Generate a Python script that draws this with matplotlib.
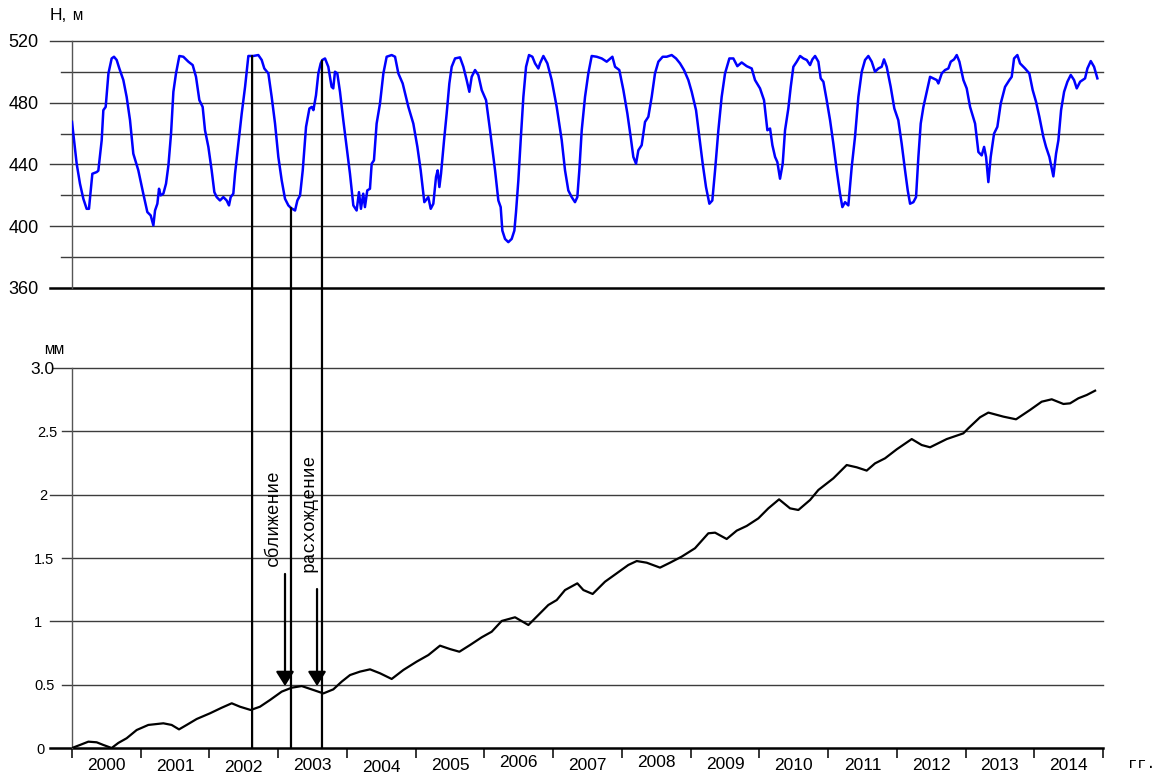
import matplotlib.pyplot as plt
import numpy as np
from matplotlib.patches import ConnectionPatch

plt.rcParams['font.family'] = ['Liberation Sans', 'DejaVu Sans']

# reservoir level H, m  (time in years after 2000.0)
level_t = [0.000, 0.068, 0.116, 0.165, 0.213, 0.247, 0.272, 0.296, 0.359, 0.383,
           0.432, 0.456, 0.490, 0.530, 0.577, 0.611, 0.650, 0.689, 0.747, 0.795,
           0.844, 0.892, 0.965, 1.037, 1.096, 1.145, 1.184, 1.208, 1.242, 1.266,
           1.290, 1.329, 1.368, 1.403, 1.441, 1.475, 1.513, 1.562, 1.620, 1.693,
           1.756, 1.804, 1.853, 1.901, 1.935, 1.984, 2.032, 2.071, 2.105, 2.153,
           2.202, 2.250, 2.284, 2.309, 2.347, 2.372, 2.420, 2.469, 2.518, 2.566,
           2.639, 2.711, 2.760, 2.798, 2.857, 2.905, 2.954, 3.002, 3.051, 3.099,
           3.148, 3.187, 3.245, 3.279, 3.318, 3.357, 3.405, 3.454, 3.488, 3.512,
           3.550, 3.584, 3.618, 3.642, 3.681, 3.729, 3.777, 3.801, 3.826, 3.860,
           3.899, 3.947, 3.996, 4.044, 4.093, 4.141, 4.175, 4.204, 4.237, 4.262,
           4.296, 4.335, 4.360, 4.393, 4.432, 4.481, 4.530, 4.578, 4.651, 4.700,
           4.748, 4.811, 4.894, 4.966, 5.025, 5.073, 5.126, 5.184, 5.219, 5.257,
           5.296, 5.320, 5.345, 5.369, 5.413, 5.451, 5.490, 5.524, 5.573, 5.645,
           5.694, 5.742, 5.781, 5.815, 5.864, 5.912, 5.961, 6.024, 6.082, 6.155,
           6.203, 6.237, 6.261, 6.300, 6.348, 6.397, 6.436, 6.460, 6.494, 6.528,
           6.567, 6.606, 6.649, 6.698, 6.737, 6.785, 6.809, 6.858, 6.916, 6.979,
           7.052, 7.125, 7.173, 7.221, 7.270, 7.318, 7.352, 7.381, 7.416, 7.464,
           7.512, 7.561, 7.634, 7.707, 7.779, 7.862, 7.901, 7.963, 8.022, 8.080,
           8.128, 8.167, 8.206, 8.240, 8.288, 8.337, 8.385, 8.434, 8.482, 8.531,
           8.594, 8.652, 8.725, 8.788, 8.846, 8.904, 8.967, 9.016, 9.079, 9.127,
           9.176, 9.224, 9.273, 9.316, 9.356, 9.404, 9.452, 9.501, 9.564, 9.622,
           9.680, 9.743, 9.816, 9.889, 9.937, 10.010, 10.068, 10.117, 10.156, 10.190,
           10.229, 10.262, 10.301, 10.340, 10.374, 10.422, 10.457, 10.495, 10.544, 10.593,
           10.641, 10.690, 10.738, 10.772, 10.811, 10.859, 10.893, 10.932, 10.980, 11.029,
           11.077, 11.126, 11.174, 11.208, 11.247, 11.295, 11.344, 11.392, 11.441, 11.490,
           11.538, 11.586, 11.635, 11.683, 11.732, 11.780, 11.814, 11.853, 11.911, 11.964,
           12.022, 12.071, 12.120, 12.159, 12.193, 12.241, 12.280, 12.314, 12.348, 12.387,
           12.435, 12.484, 12.532, 12.581, 12.605, 12.654, 12.702, 12.750, 12.785, 12.833,
           12.872, 12.911, 12.969, 13.017, 13.066, 13.139, 13.187, 13.235, 13.270, 13.299,
           13.332, 13.366, 13.415, 13.463, 13.512, 13.575, 13.638, 13.672, 13.706, 13.754,
           13.793, 13.866, 13.928, 13.977, 14.026, 14.074, 14.132, 14.171, 14.220, 14.278,
           14.317, 14.351, 14.390, 14.434, 14.482, 14.531, 14.579, 14.618, 14.667, 14.739,
           14.773, 14.822, 14.870, 14.918]
level_h = [467.6, 440.5, 427.6, 417.8, 411.3, 411.3, 423.2, 434.0, 435.1, 436.0,
           455.7, 475.2, 477.3, 499.0, 508.7, 509.8, 507.7, 502.2, 494.7, 483.8,
           468.7, 447.0, 436.2, 421.1, 409.2, 407.0, 400.5, 410.2, 414.6, 424.3,
           420.0, 421.1, 427.6, 439.5, 460.0, 487.1, 499.0, 510.3, 509.8, 506.6,
           504.4, 496.8, 481.7, 477.3, 462.2, 451.4, 436.2, 422.1, 418.9, 416.7,
           418.9, 416.7, 413.5, 418.9, 421.1, 434.1, 453.5, 473.0, 490.3, 510.3,
           510.3, 510.9, 507.7, 502.2, 499.0, 483.8, 466.5, 444.9, 429.7, 417.8,
           413.5, 411.8, 410.2, 416.7, 420.0, 436.2, 464.4, 476.3, 477.3, 475.2,
           484.9, 499.0, 505.5, 507.7, 508.7, 503.3, 490.3, 489.3, 500.1, 499.0,
           487.1, 468.7, 451.4, 434.1, 413.5, 410.2, 422.1, 411.3, 421.1, 412.4,
           423.2, 424.3, 440.5, 442.7, 466.5, 479.5, 499.0, 509.8, 510.9, 509.8,
           499.0, 492.5, 477.3, 466.5, 451.4, 436.2, 415.6, 418.9, 411.3, 414.6,
           431.9, 436.2, 425.4, 434.1, 455.7, 473.0, 492.5, 503.3, 508.7, 509.4,
           503.3, 494.7, 487.1, 496.8, 501.2, 497.9, 488.2, 481.7, 462.2, 436.2,
           416.7, 412.4, 397.2, 391.8, 389.7, 391.8, 397.2, 409.2, 429.7, 455.7,
           483.8, 503.3, 510.9, 509.8, 505.5, 502.2, 505.5, 510.3, 505.5, 494.7,
           477.3, 455.7, 436.2, 423.2, 418.9, 415.6, 418.9, 436.2, 462.2, 483.8,
           499.0, 510.3, 509.8, 508.7, 506.6, 509.8, 503.3, 501.2, 488.2, 473.0,
           457.9, 444.9, 440.5, 449.2, 452.5, 467.6, 470.9, 483.8, 499.0, 506.6,
           509.8, 509.8, 510.9, 508.7, 505.5, 501.2, 494.7, 487.1, 475.2, 457.9,
           440.5, 425.4, 414.6, 416.7, 436.2, 462.2, 483.8, 499.0, 508.7, 508.7,
           503.7, 506.1, 503.7, 502.2, 494.7, 489.3, 481.7, 462.2, 463.3, 452.5,
           444.9, 441.6, 430.8, 440.5, 462.2, 476.3, 490.3, 503.3, 506.6, 510.3,
           508.7, 507.7, 504.4, 508.1, 510.3, 506.6, 495.8, 493.6, 481.7, 468.7,
           453.5, 436.2, 421.1, 412.4, 415.6, 413.5, 438.4, 457.9, 483.8, 500.1,
           507.7, 510.3, 506.6, 500.1, 502.2, 503.3, 508.1, 503.3, 490.3, 476.3,
           468.7, 453.5, 436.2, 423.2, 414.6, 415.6, 418.9, 444.9, 466.5, 477.3,
           487.1, 496.8, 495.8, 494.7, 492.5, 499.0, 501.2, 502.2, 506.6, 508.1,
           510.9, 506.6, 494.7, 489.3, 477.3, 466.5, 448.1, 445.9, 451.4, 444.9,
           428.6, 444.9, 460.0, 464.4, 479.5, 490.3, 494.7, 496.8, 508.7, 510.9,
           505.5, 502.2, 499.0, 488.2, 480.6, 470.9, 457.9, 451.4, 444.9, 432.3,
           447.0, 455.7, 475.2, 487.1, 493.6, 498.0, 494.7, 489.3, 493.6, 495.8,
           502.2, 507.0, 503.3, 495.8]

# displacement, mm
disp_t = [0.000, 0.116, 0.238, 0.359, 0.456, 0.577, 0.674, 0.795, 0.941, 1.110,
          1.329, 1.450, 1.557, 1.668, 1.814, 2.008, 2.178, 2.324, 2.444, 2.600,
          2.735, 2.881, 3.051, 3.196, 3.342, 3.512, 3.657, 3.802, 3.924, 4.045,
          4.190, 4.336, 4.481, 4.651, 4.821, 5.015, 5.185, 5.354, 5.500, 5.636,
          5.791, 5.961, 6.106, 6.252, 6.446, 6.640, 6.785, 6.930, 7.052, 7.173,
          7.352, 7.440, 7.575, 7.755, 7.925, 8.094, 8.216, 8.361, 8.555, 8.701,
          8.871, 9.064, 9.258, 9.356, 9.525, 9.671, 9.816, 9.986, 10.131, 10.287,
          10.447, 10.568, 10.738, 10.859, 11.077, 11.271, 11.417, 11.562, 11.683, 11.829,
          11.999, 12.217, 12.362, 12.484, 12.726, 12.968, 13.041, 13.211, 13.332, 13.551,
          13.735, 13.939, 14.108, 14.254, 14.424, 14.521, 14.642, 14.764, 14.885]
disp_v = [0.000, 0.024, 0.050, 0.045, 0.024, 0.000, 0.040, 0.077, 0.142, 0.182,
          0.195, 0.182, 0.147, 0.182, 0.229, 0.274, 0.318, 0.353, 0.326, 0.300,
          0.326, 0.379, 0.445, 0.476, 0.489, 0.458, 0.431, 0.463, 0.524, 0.576,
          0.603, 0.621, 0.590, 0.545, 0.616, 0.682, 0.734, 0.808, 0.781, 0.760,
          0.813, 0.874, 0.918, 1.003, 1.032, 0.971, 1.050, 1.129, 1.168, 1.247,
          1.300, 1.247, 1.216, 1.313, 1.379, 1.445, 1.476, 1.463, 1.424, 1.463,
          1.511, 1.577, 1.695, 1.700, 1.650, 1.716, 1.753, 1.813, 1.892, 1.963,
          1.892, 1.879, 1.958, 2.037, 2.129, 2.234, 2.216, 2.190, 2.247, 2.287,
          2.358, 2.439, 2.392, 2.374, 2.439, 2.484, 2.524, 2.611, 2.648, 2.616,
          2.595, 2.669, 2.734, 2.753, 2.716, 2.721, 2.761, 2.787, 2.821]

years = list(range(2000, 2015))
h_major = [520, 480, 440, 400, 360]
h_minor = [500, 460, 420, 380]
mm_ticks = [3.0, 2.5, 2, 1.5, 1, 0.5, 0]
mm_labels = ['3.0', '2.5', '2', '1.5', '1', '0.5', '0']
marks = [2002.62, 2003.186, 2003.637]        # vertical marker lines
arrow_x = [2003.099, 2003.565]
notes = ['сближение', 'расхождение']

lt = 2000 + np.array(level_t)
dt = 2000 + np.array(disp_t)

W, H = 1161, 775
def box(l, t, r, b):
    return [l / W, 1 - b / H, (r - l) / W, (b - t) / H]

fig = plt.figure(figsize=(W / 100, H / 100), dpi=100)
ax1 = fig.add_axes(box(72, 41, 1103, 288))
ax2 = fig.add_axes(box(72, 368, 1103, 748))
axw = 1031.0

# ---- top panel: water level
for v in sorted(h_major + h_minor):
    start = 50 if v in h_major else 61
    if v == 360:
        ax1.axhline(v, xmin=(start - 72) / axw, xmax=1, color='black', lw=1.8, clip_on=False, zorder=1)
    else:
        ax1.axhline(v, xmin=(start - 72) / axw, xmax=1, color='#3c3c3c', lw=1.0, clip_on=False, zorder=1)
ax1.plot(lt, level_h, color='#0000ff', lw=1.8, zorder=3)
ax1.set_xlim(2000, 2015)
ax1.set_ylim(360, 520)
ax1.set_xticks([])
ax1.set_yticks(h_major)
ax1.tick_params(axis='y', length=0, pad=24, labelsize=13)
for s in ['top', 'right', 'bottom']:
    ax1.spines[s].set_visible(False)
ax1.spines['left'].set_color('#555555')
ax1.spines['left'].set_linewidth(1.0)

# ---- bottom panel: displacement
mm_start = [53, 62, 50, 62, 50, 62, 50]
for v, start in zip(mm_ticks, mm_start):
    if v == 0:
        ax2.axhline(v, xmin=(start - 72) / axw, xmax=1, color='black', lw=1.8, clip_on=False, zorder=1)
    else:
        ax2.axhline(v, xmin=(start - 72) / axw, xmax=1, color='#3c3c3c', lw=1.0, clip_on=False, zorder=1)
ax2.plot(dt, disp_v, color='black', lw=1.6, zorder=3)
ax2.set_xlim(2000, 2015)
ax2.set_ylim(0, 3)
ax2.set_yticks(mm_ticks, mm_labels)
ax2.tick_params(axis='y', length=0)
pads_px = [18, 15, 25, 18, 30, 17, 27]
sizes = [12.5, 10.5, 10.5, 10.5, 10.5, 10.5, 10.5]
for tick, p, fs in zip(ax2.yaxis.get_major_ticks(), pads_px, sizes):
    tick.set_pad(p / 1.389)
    tick.label1.set_fontsize(fs)

ax2.set_xticks(years + [2015])
ax2.set_xticklabels([])
ax2.tick_params(axis='x', which='major', length=7, width=1.1, color='black', direction='out')
ax2.set_xticks([y + 0.5 for y in years], [str(y) for y in years], minor=True)
ax2.tick_params(axis='x', which='minor', length=0, labelsize=12.5)
centers = [765, 766, 767, 765, 767, 765, 762, 765, 762, 764, 765, 765, 765, 765, 765]
for tick, c in zip(ax2.xaxis.get_minor_ticks(), centers):
    tick.set_pad((c - 755) / 1.389)

for s in ['top', 'right', 'bottom']:
    ax2.spines[s].set_visible(False)
ax2.spines['left'].set_color('#555555')
ax2.spines['left'].set_linewidth(1.0)

# ---- vertical marker lines through both panels
for m in marks:
    top = np.interp(m, lt, level_h)
    con = ConnectionPatch(xyA=(m, top), coordsA=ax1.transData,
                          xyB=(m, 0), coordsB=ax2.transData,
                          color='black', lw=1.6, zorder=5)
    fig.add_artist(con)

# ---- arrows and notes
arrow_tail = [1.374, 1.255]
arrow_tip = [0.489, 0.489]
note_pos = [(2002.925, 1.816), (2003.448, 1.855)]
for x, y0, y1 in zip(arrow_x, arrow_tail, arrow_tip):
    ax2.annotate('', xy=(x, y1), xytext=(x, y0),
                 arrowprops=dict(arrowstyle='-|>,head_length=0.35,head_width=0.22',
                                 mutation_scale=25, lw=1.6, color='black',
                                 shrinkA=0, shrinkB=0))
for (x, y), txt in zip(note_pos, notes):
    ax2.text(x, y, txt, rotation=90, ha='center', va='center',
             family='Liberation Mono', fontsize=13)

# ---- axis unit labels
fig.text(50 / W, 1 - 20 / H, 'H,', fontsize=12.5, va='baseline')
fig.text(72 / W, 1 - 20 / H, 'м', family='Liberation Mono', fontsize=12, va='baseline')
fig.text(44 / W, 1 - 354 / H, 'мм', family='Liberation Mono', fontsize=12, va='baseline')
fig.text(1128 / W, 1 - 768 / H, 'гг.', family='Liberation Mono', fontsize=11, va='baseline')

fig.savefig('out.png', dpi=100)
